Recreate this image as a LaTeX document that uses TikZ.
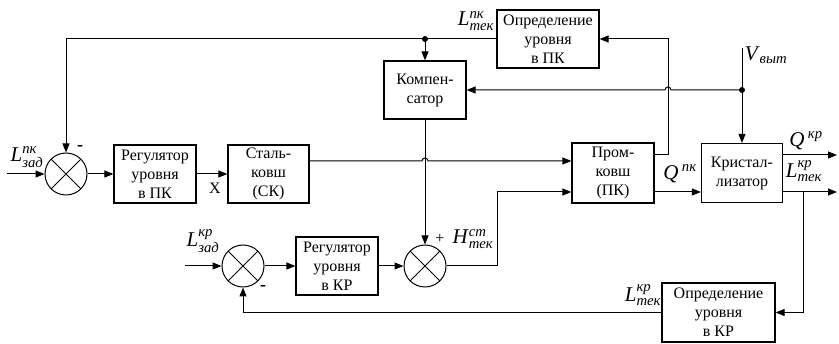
\documentclass[tikz,border=0pt]{standalone}
\usepackage{amsmath}
\usepackage{fontspec}
\setmainfont{Liberation Serif}
\usepackage{tikz}
\usetikzlibrary{arrows.meta, positioning, calc}
\tikzset{
  blockbox/.style={draw, line width=1.2pt, fill=white,
    minimum width=82pt, minimum height=58pt,
    align=center, inner sep=1pt, font=\fontsize{16}{19}\selectfont},
  sumnode/.style={circle, draw, line width=1pt, minimum size=42pt, inner sep=0pt,
    path picture={\draw[line width=1pt]
      (path picture bounding box.north west) -- (path picture bounding box.south east)
      (path picture bounding box.north east) -- (path picture bounding box.south west);}},
  sig/.style={font=\fontsize{21}{24}\selectfont, inner sep=0pt},
  arr/.style={-{Triangle[length=9pt,width=7pt]}, line width=1pt},
  junc/.style={circle, fill, inner sep=0pt, minimum size=6pt},
}
\newcommand{\sgn}[3]{\textit{#1}$^{\text{\itshape #2}}_{\text{\itshape #3}}$}

\begin{document}
\begin{tikzpicture}[x=1pt, y=-1pt]
  \useasboundingbox (0,0) rectangle (839,344);

  % Upper loop: tundish level
  \node[sumnode] (sumPK) at (66,174) {};
  \node[blockbox] (regPK) at (155,174) {Регулятор\\уровня\\в ПК};
  \node[blockbox, minimum width=81pt] (ladle) at (268.5,174) {Сталь-\\ковш\\(СК)};
  \node[blockbox, minimum height=60pt] (tundish) at (613,173) {Пром-\\ковш\\(ПК)};
  \node[blockbox, minimum width=81pt, minimum height=59pt] (mould) at (742,173)
    {Кристал-\\лизатор};
  \node[blockbox] (comp) at (425,90) {Компен-\\сатор};
  \node[blockbox, minimum width=102pt] (detPK) at (548,39) {Определение\\уровня\\в ПК};

  % Lower loop: mould level
  \node[sumnode] (sumKR) at (243,266) {};
  \node[blockbox] (regKR) at (337,266) {Регулятор\\уровня\\в КР};
  \node[sumnode] (sumH) at (425,266) {};
  \node[blockbox, minimum width=113pt, minimum height=59pt] (detKR) at (718.5,312.5)
    {Определение\\уровня\\в КР};

  \coordinate (inPK) at (7,174);
  \coordinate (inKR) at (185,266);
  \coordinate (vTop) at (742,48);
  \coordinate (fbPK) at (668,155);
  \coordinate (hopA) at (425,161);
  \coordinate (bendH) at (497,266);
  \coordinate (outQ) at (837,155);
  \coordinate (outL) at (837,192);
  \coordinate (fbKR) at (803,192);
  \coordinate (hopB) at (fbPK |- comp.east);

  % Forward paths
  \draw[arr] (inPK) -- (sumPK);
  \draw[arr] (sumPK) -- (regPK);
  \draw[arr] (regPK) -- (ladle);
  \draw[arr] ([yshift=13pt]ladle.east) -- ([xshift=-3pt]hopA)
    arc[start angle=180, end angle=0, radius=3pt] -- (tundish.west |- hopA);
  \draw[arr] (comp) -- (sumH);
  \draw[arr] (sumH) -- (bendH) |- ([yshift=-19pt]tundish.west);
  \draw[arr] ([yshift=-19pt]tundish.east) -- ([yshift=-19pt]mould.west);
  \draw[arr] ([yshift=18pt]mould.east) -- (outQ);
  \draw[arr] ([yshift=-19pt]mould.east) -- (outL);
  \draw[arr] (inKR) -- (sumKR);
  \draw[arr] (sumKR) -- (regKR);
  \draw[arr] (regKR) -- (sumH);

  % Feedback paths
  \draw[arr] ([yshift=18pt]tundish.east) -- (fbPK) |- (detPK.east);
  \draw[arr] (detPK.west) -| (sumPK.north);
  \node[junc] (topJ) at (comp.north |- detPK.west) {};
  \draw[arr] (topJ) -- (comp.north);
  \draw[arr] (vTop) -- (mould.north);
  \node[junc] (vJ) at (vTop |- comp.east) {};
  \draw[arr] (vJ) -- ([xshift=3pt]hopB)
    arc[start angle=0, end angle=180, radius=3pt] -- (comp.east);
  \draw[arr] (fbKR) |- (detKR.east);
  \draw[arr] (detKR.west) -| (sumKR.south);

  % Signal labels
  \node[sig] (lZadPK) at (27,157) {\sgn{L}{пк}{зад}};
  \node[font=\bfseries\fontsize{18}{18}\selectfont] (minusPK) at (80,148) {-};
  \node[font=\fontsize{16}{19}\selectfont] (xLab) at (215,188) {X};
  \node[sig] (lTekPK) at (476,21) {\sgn{L}{пк}{тек}};
  \node[sig] (vVyt) at (766,55) {\textit{V}$_{\text{\itshape выт}}$};
  \node[sig] (qPK) at (680,174) {\textit{Q}\,$^{\text{\itshape пк}}$};
  \node[sig] (qKR) at (806,141) {\textit{Q}\,$^{\text{\itshape кр}}$};
  \node[sig] (lTekKR) at (804,171) {\sgn{L}{кр}{тек}};
  \node[sig] (lZadKR) at (203,241) {\sgn{L}{кр}{зад}};
  \node[font=\bfseries\fontsize{18}{18}\selectfont] (minusKR) at (263,288) {-};
  \node[font=\fontsize{16}{19}\selectfont, inner sep=1pt] (plusH) at (440,239) {+};
  \node[sig] (hTek) at (473,239) {\sgn{H}{ст}{тек}};
  \node[sig] (lTekKR2) at (643,295) {\sgn{L}{кр}{тек}};
\end{tikzpicture}
\end{document}
